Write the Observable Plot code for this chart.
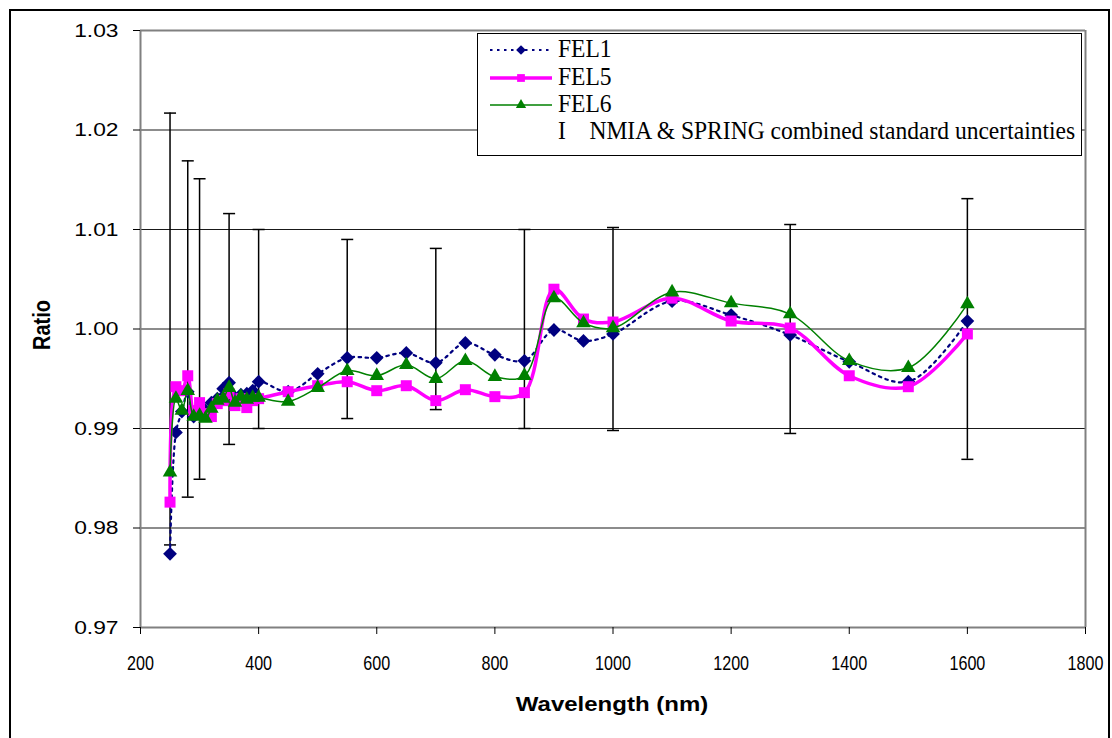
<!DOCTYPE html>
<html>
<head>
<meta charset="utf-8">
<script src="https://cdn.jsdelivr.net/npm/d3@7"></script>
<script src="https://cdn.jsdelivr.net/npm/@observablehq/plot@0.6"></script>
<style>
  body { margin: 0; background: #fff; }
  #wrap { position: relative; width: 1112px; height: 738px; overflow: hidden; background: #fff; }
  #frame { position: absolute; left: 9px; top: 9px; width: 1097px; height: 760px; border: 2px solid #000; }
  #chart { position: absolute; left: 0; top: 0; }
  .title { position: absolute; font-family: "Liberation Sans", Arial, sans-serif; font-weight: bold; font-size: 20px; color: #000; white-space: nowrap; }
  #xtitle { left: 612px; top: 704px; transform: translate(-50%, -50%) scale(1.2, 1.05); }
  #ytitle { left: 43px; top: 325px; transform: translate(-50%, -50%) rotate(-90deg) scale(1, 1.15); }
  #legend { position: absolute; left: 477px; top: 33px; width: 603px; height: 121px; border: 1px solid #000; background: #fff; }
  .row { position: absolute; left: 0; height: 28px; width: 600px; }
  .row svg { position: absolute; left: 10px; top: 0; }
  .row span { position: absolute; left: 80px; top: 0px; font-family: "Liberation Serif", "Times New Roman", serif; font-size: 22px; color: #000; transform: scale(1.07, 1.12); transform-origin: left center; white-space: nowrap; }
</style>
</head>
<body>
<div id="wrap">
  <div id="frame"></div>
  <div id="chart"></div>
  <div id="xtitle" class="title">Wavelength (nm)</div>
  <div id="ytitle" class="title">Ratio</div>
  <div id="legend"></div>
</div>
<script>
// ---- data ----
const wavelengths = [250,260,270,280,290,300,310,320,330,340,350,360,370,380,390,400,450,500,550,600,650,700,750,800,850,900,950,1000,1100,1200,1300,1400,1500,1600];
const fel1 = [0.9774,0.9896,0.9917,0.9937,0.9912,0.9915,0.9918,0.9926,0.9930,0.9940,0.9946,0.9931,0.9934,0.9935,0.9938,0.9947,0.9937,0.9955,0.9971,0.9971,0.9976,0.9966,0.9986,0.9974,0.9968,0.9999,0.9988,0.9995,1.0028,1.0014,0.9994,0.9967,0.9947,1.0008];
const fel5 = [0.9826,0.9942,0.9938,0.9953,0.9918,0.9926,0.9915,0.9912,0.9925,0.9928,0.9935,0.9923,0.9930,0.9921,0.9928,0.9930,0.9937,0.9943,0.9947,0.9938,0.9943,0.9928,0.9939,0.9932,0.9936,1.0040,1.0010,1.0007,1.0031,1.0008,1.0001,0.9953,0.9942,0.9995];
const fel6 = [0.9856,0.9930,0.9918,0.9938,0.9912,0.9913,0.9910,0.9920,0.9928,0.9930,0.9941,0.9926,0.9932,0.9929,0.9931,0.9931,0.9927,0.9941,0.9958,0.9953,0.9964,0.9950,0.9968,0.9952,0.9953,1.0031,1.0006,1.0001,1.0037,1.0026,1.0015,0.9968,0.9961,1.0025];
const errWavelengths = [250,280,300,350,400,550,700,850,1000,1300,1600];
const errCenter = 1.0;
const errU = [0.0217,0.0169,0.0151,0.0116,0.0100,0.0090,0.0081,0.0100,0.0102,0.0105,0.0131];
const xTicks = [200,400,600,800,1000,1200,1400,1600,1800];
const yTicks = [0.97,0.98,0.99,1.00,1.01,1.02,1.03];
const seriesNames = ["FEL1","FEL5","FEL6"];
const legendErrText = "NMIA & SPRING combined standard uncertainties";

// ---- tables ----
const mk = (vals) => wavelengths.map((w, i) => ({w, v: vals[i]}));
const d1 = mk(fel1), d5 = mk(fel5), d6 = mk(fel6);
const errs = errWavelengths.map((w, i) => ({w, lo: errCenter - errU[i], hi: errCenter + errU[i]}));

const capSymbol = { draw(ctx, size) { const h = Math.sqrt(size); ctx.moveTo(-h, 0); ctx.lineTo(h, 0); } };

const styles = {
  FEL1: {stroke: "#000080", strokeWidth: 2.2, dash: "2.5,4.5", symbol: "diamond2", r: 6.2},
  FEL5: {stroke: "#ff00ff", strokeWidth: 3.5, dash: null, symbol: "square", r: 6.2},
  FEL6: {stroke: "#008000", strokeWidth: 1.5, dash: null, symbol: "triangle", r: 5.4}
};

function seriesMarks(data, s) {
  return [
    Plot.line(data, {x: "w", y: "v", stroke: s.stroke, strokeWidth: s.strokeWidth, strokeDasharray: s.dash || undefined, curve: "catmull-rom"}),
    Plot.dot(data, {x: "w", y: "v", symbol: () => s.symbol, fill: s.stroke, stroke: "none", r: s.r})
  ];
}

const chart = Plot.plot({
  width: 1112,
  height: 738,
  marginLeft: 140,
  marginRight: 27,
  marginTop: 30,
  marginBottom: 111,
  style: {fontFamily: "'Liberation Sans', Arial, sans-serif", background: "transparent", color: "#000"},
  x: {domain: [200, 1800]},
  y: {domain: [0.97, 1.03]},
  symbol: {type: "identity"},
  marks: [
    Plot.gridY(yTicks, {stroke: "#000", strokeOpacity: 0.9, strokeWidth: 1}),
    Plot.ruleY([1.03], {stroke: "#808080", strokeWidth: 2}),
    Plot.ruleX([1800], {stroke: "#808080", strokeWidth: 2}),
    Plot.ruleX([200], {stroke: "#808080", strokeWidth: 2}),
    Plot.ruleY([0.97], {stroke: "#808080", strokeWidth: 2}),
    Plot.axisX({ticks: xTicks, tickSize: 7, tickPadding: 21, fontSize: 19, label: null, tickFormat: d3.format("d")}),
    Plot.axisY({ticks: yTicks, tickSize: 7, tickPadding: 15, fontSize: 19, label: null, tickFormat: d3.format(".2f")}),
    Plot.ruleX(errs, {x: "w", y1: "lo", y2: "hi", stroke: "#000", strokeWidth: 1.5}),
    Plot.dot(errs, {x: "w", y: "lo", symbol: () => capSymbol, r: 3.39, stroke: "#000", strokeWidth: 1.5, fill: "none"}),
    Plot.dot(errs, {x: "w", y: "hi", symbol: () => capSymbol, r: 3.39, stroke: "#000", strokeWidth: 1.5, fill: "none"}),
    ...seriesMarks(d1, styles.FEL1),
    ...seriesMarks(d5, styles.FEL5),
    ...seriesMarks(d6, styles.FEL6)
  ]
});
document.getElementById("chart").appendChild(chart);

// stretch tick labels to match reference proportions
chart.querySelectorAll('g[aria-label="x-axis tick label"] text').forEach(t => {
  t.setAttribute("transform", (t.getAttribute("transform") || "") + " scale(0.85,1.05)");
});
chart.querySelectorAll('g[aria-label="y-axis tick label"] text').forEach(t => {
  t.setAttribute("transform", (t.getAttribute("transform") || "") + " scale(1.2,1)");
});

// ---- legend ----
const legend = document.getElementById("legend");
const rowTops = [2, 30, 57, 84];
const symPath = (type, size) => d3.symbol(type === "diamond2" ? d3.symbolDiamond2 : type === "square" ? d3.symbolSquare : d3.symbolTriangle, size)();
seriesNames.forEach((name, i) => {
  const s = styles[name];
  const row = document.createElement("div");
  row.className = "row";
  row.style.top = rowTops[i] + "px";
  const size = Math.PI * s.r * s.r * 0.5;
  row.innerHTML = `<svg width="66" height="28"><line x1="2" x2="64" y1="14" y2="14" stroke="${s.stroke}" stroke-width="${s.strokeWidth}" ${s.dash ? `stroke-dasharray="${s.dash}"` : ""}/><path transform="translate(33,14)" d="${symPath(s.symbol, size)}" fill="${s.stroke}"/></svg><span>${name}</span>`;
  legend.appendChild(row);
});
const erow = document.createElement("div");
erow.className = "row";
erow.style.top = rowTops[3] + "px";
erow.innerHTML = `<span>I&nbsp;&nbsp;&nbsp;&nbsp;${legendErrText}</span>`;
legend.appendChild(erow);
</script>
</body>
</html>
